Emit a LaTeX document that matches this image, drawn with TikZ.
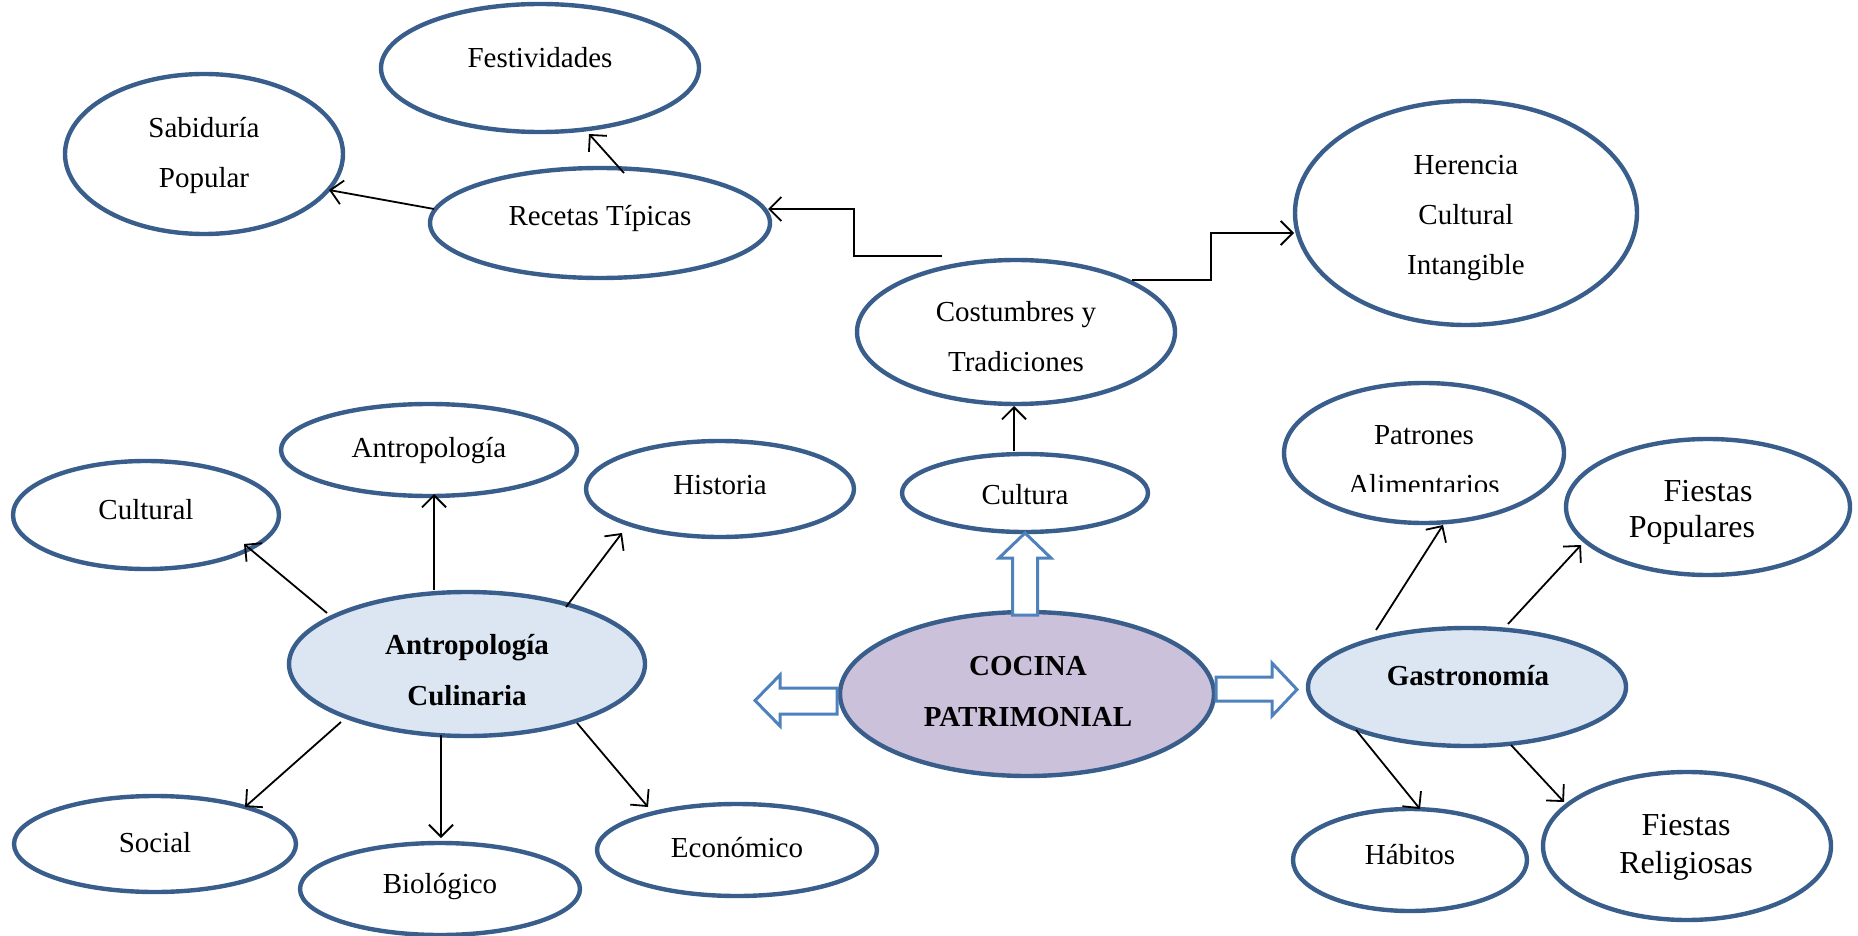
\documentclass[tikz,border=0pt]{standalone}
\usepackage{fontspec}
\setmainfont{Liberation Serif}
\usetikzlibrary{shapes.geometric,arrows.meta,calc}
\definecolor{ellline}{HTML}{395E8C}
\definecolor{blockline}{HTML}{4F81BD}
\definecolor{lightfill}{HTML}{DCE6F2}
\definecolor{lavfill}{HTML}{CCC1DA}
\tikzset{
  ell/.style={ellipse, draw=ellline, line width=2.2pt, inner sep=0pt, fill=white},
  txt/.style={inner sep=0pt, align=center, font=\fontsize{14.5}{25}\selectfont},
  bigtxt/.style={inner sep=0pt, align=center, font=\fontsize{16}{19}\selectfont},
  boldtxt/.style={inner sep=0pt, align=center, font=\fontsize{14.5}{25.5}\selectfont\bfseries},
  conn/.style={line width=0.9pt, -{Straight Barb[length=6pt,width=12pt]}},
  block/.style={draw=blockline, line width=1.5pt, fill=white, line join=miter},
}
\begin{document}
\begin{tikzpicture}[x=0.5pt,y=-0.5pt]
\useasboundingbox (0,0) rectangle (1858,936);
% ellipses
\node[ell, minimum width=159pt, minimum height=64pt] (fest) at (540,68) {};
\node[ell, minimum width=139pt, minimum height=80pt] (sab) at (204,154) {};
\node[ell, minimum width=170pt, minimum height=55pt] (rec) at (600,223) {};
\node[ell, minimum width=171pt, minimum height=112pt] (her) at (1466,213) {};
\node[ell, minimum width=159pt, minimum height=72pt] (cost) at (1016,332) {};
\node[ell, minimum width=123pt, minimum height=39pt] (cult) at (1025,493) {};
\node[ell, minimum width=148pt, minimum height=46pt] (antr) at (429,450) {};
\node[ell, minimum width=133pt, minimum height=54pt] (cultural) at (146,515) {};
\node[ell, minimum width=134pt, minimum height=48pt] (hist) at (720,489) {};
\node[ell, fill=lightfill, minimum width=178pt, minimum height=72pt] (ac) at (467,664) {};
\node[ell, fill=lavfill, minimum width=187pt, minimum height=82pt] (coc) at (1027,694) {};
\node[ell, fill=lightfill, minimum width=159pt, minimum height=59pt] (gas) at (1467,687) {};
\node[ell, minimum width=140pt, minimum height=70pt] (pat) at (1424,453) {};
\node[ell, minimum width=142pt, minimum height=68pt] (fp) at (1708,507) {};
\node[ell, minimum width=141pt, minimum height=48pt] (soc) at (155,844) {};
\node[ell, minimum width=140pt, minimum height=46pt] (bio) at (440,889) {};
\node[ell, minimum width=140pt, minimum height=46pt] (eco) at (737,850) {};
\node[ell, minimum width=117pt, minimum height=51pt] (hab) at (1410,860) {};
\node[ell, minimum width=144pt, minimum height=74pt] (fr) at (1687,846) {};
% texts
\node[txt] (tfest) at (540,58) {Festividades};
\node[txt] (tsab) at (204,156) {Sabiduría\\Popular};
\node[txt] (trec) at (600,219) {Recetas Típicas};
\node[txt] (ther) at (1466,218) {Herencia\\Cultural\\Intangible};
\node[txt] (tcost) at (1016,337) {Costumbres y\\Tradiciones};
\node[txt] (tcult) at (1025,495) {Cultura};
\node[txt] (tantr) at (429,451) {Antropología};
\node[txt] (tcultural) at (146,510) {Cultural};
\node[txt] (thist) at (720,485) {Historia};
\node[boldtxt] (tac) at (467,670) {Antropología\\Culinaria};
\node[boldtxt] (tcoc) at (1028,692) {COCINA\\PATRIMONIAL};
\node[boldtxt] (tgas) at (1468,676) {Gastronomía};
\begin{scope}
  \clip (1290,380) rectangle (1560,491);
  \node[txt] (tpat) at (1424,460) {Patrones\\Alimentarios};
\end{scope}
\node[bigtxt] (tfp1) at (1708,491) {Fiestas};
\node[bigtxt] (tfp2) at (1692,530) {Populares};
\node[txt] (tsoc) at (155,843) {Social};
\node[txt] (tbio) at (440,887) {Biológico};
\node[txt] (teco) at (737,848) {Económico};
\node[txt] (thab) at (1410,855) {Hábitos};
\node[bigtxt] (tfr) at (1686,847) {Fiestas\\Religiosas};
% connectors
\coordinate (cs) at ($(cost)+(-74,-76)$);
\draw[conn] ($(rec)+(24,-50)$) -- ($(fest)+(49,66)$);
\draw[conn] ($(rec)+(-166,-14)$) -- ($(sab)+(125,36)$);
\draw[conn] (cs) -- ++(-88,0) |- ($(rec)+(168,-14)$);
\draw[conn] ($(cost)+(116,-52)$) -- ++(79,0) |- ($(her)+(-172,20)$);
\draw[conn] ($(cult)+(-11,-42)$) -- ($(cost)+(-2,74)$);
\draw[conn] ($(ac)+(-140,-51)$) -- ($(cultural)+(98,29)$);
\draw[conn] ($(ac)+(-33,-74)$) -- ($(antr)+(5,44)$);
\draw[conn] ($(ac)+(99,-57)$) -- ($(hist)+(-98,44)$);
\draw[conn] ($(ac)+(-126,58)$) -- ($(soc)+(90,-37)$);
\draw[conn] ($(ac)+(-26,71)$) -- ($(bio)+(1,-51)$);
\draw[conn] ($(ac)+(110,59)$) -- ($(eco)+(-89,-43)$);
\draw[conn] ($(gas)+(-91,-57)$) -- ($(pat)+(19,72)$);
\draw[conn] ($(gas)+(41,-63)$) -- ($(fp)+(-127,38)$);
\draw[conn] ($(gas)+(-111,43)$) -- ($(hab)+(10,-51)$);
\draw[conn] ($(gas)+(44,58)$) -- ($(fr)+(-123,-44)$);
% block arrows
\begin{scope}[shift={(coc.center)}]
  \draw[block] (-14.5,-79) -- (-14.5,-136) -- (-28,-136) -- (-2,-161) -- (24,-136) -- (10.5,-136) -- (10.5,-79) -- cycle;
  \draw[block] (-190,-6) -- (-247,-6) -- (-247,-19) -- (-272,6.5) -- (-247,32) -- (-247,20) -- (-190,20) -- cycle;
  \draw[block] (189,-17) -- (245,-17) -- (245,-31) -- (270,-4.5) -- (245,22) -- (245,7) -- (189,7) -- cycle;
\end{scope}
\end{tikzpicture}
\end{document}
